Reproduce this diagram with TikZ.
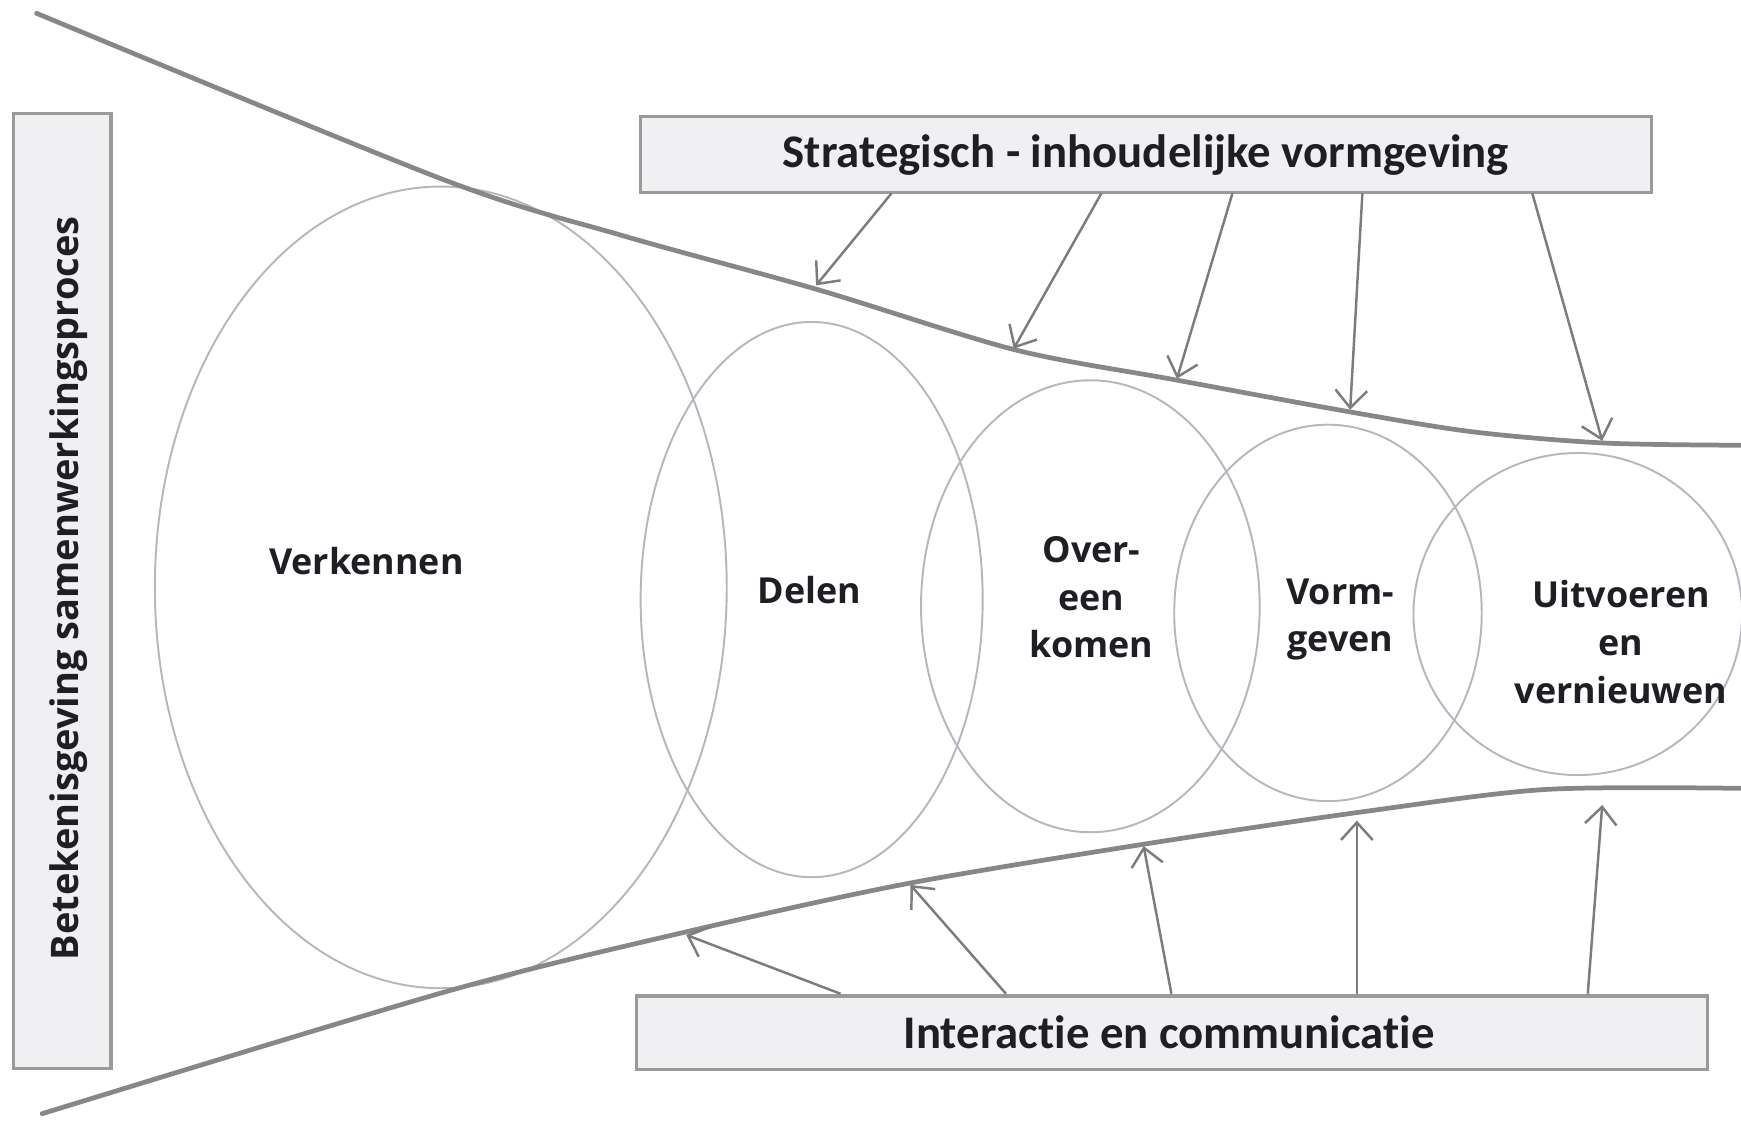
\documentclass[tikz,border=0pt]{standalone}
\usepackage{fontspec}
\newfontfamily\boxfont[Ligatures=NoCommon]{Carlito}
\newfontfamily\lblfont{Open Sans}
\usetikzlibrary{arrows.meta,shapes.geometric}
\definecolor{lineg}{HTML}{878787}
\definecolor{arrg}{HTML}{7C7C7C}
\definecolor{ellg}{HTML}{B6B6C0}
\definecolor{boxfill}{HTML}{F0F0F3}
\definecolor{boxdraw}{HTML}{9A9A9A}
\definecolor{txt}{HTML}{1E1E24}
\begin{document}
\begin{tikzpicture}[x=0.11103mm,y=-0.11103mm,
  bigbox/.style={draw=boxdraw, fill=boxfill, line width=0.9pt, inner sep=0pt, outer sep=0pt, rectangle},
  boxtext/.style={text=txt, font=\boxfont\bfseries\fontsize{13.3}{16}\selectfont},
  sidetext/.style={text=txt, font=\lblfont\bfseries\fontsize{10.8}{13}\selectfont, rotate=90},
  phase/.style={draw=ellg, line width=0.55pt, ellipse, inner sep=0pt, outer sep=0pt},
  lbl/.style={text=txt, align=center, font=\lblfont\bfseries\fontsize{10.2}{13.6}\selectfont},
  funnel/.style={draw=lineg, line width=1.35pt, line cap=round},
  arr/.style={draw=arrg, line width=0.7pt, -{Straight Barb[length=5pt,width=9pt,line width=0.7pt]}}]
\useasboundingbox (0,0) rectangle (1568,1011);

% boxes
\node[bigbox, minimum width=101.04mm, minimum height=7.55mm] (topbox) at (1032,139) {};
\node[boxtext] (toptext) at (1032,140) {Strategisch - inhoudelijke vormgeving};
\node[bigbox, minimum width=107.14mm, minimum height=7.33mm] (botbox) at (1055.5,930) {};
\node[boxtext] (bottext) at (1053,930) {Interactie en communicatie};
\node[bigbox, minimum width=9.77mm, minimum height=95.49mm] (sidebox) at (56,532) {};
\node[sidetext] (sidetxt) at (62,530) {Betekenisgeving samenwerkingsproces};

% phase ellipses
\node[phase, minimum width=57.18mm, minimum height=80.16mm] (e1) at (397,529) {};
\node[phase, minimum width=34.20mm, minimum height=55.52mm] (e2) at (731,540) {};
\node[phase, minimum width=33.86mm, minimum height=45.19mm] (e3) at (982,546) {};
\node[phase, minimum width=30.75mm, minimum height=37.64mm] (e4) at (1196,552) {};
\node[phase, minimum width=32.86mm, minimum height=32.20mm] (e5) at (1421,553) {};

\node[lbl] (l1) at (330,505) {Verkennen};
\node[lbl] (l2) at (729,531) {Delen};
\node[lbl] (l3) at (983,538) {Over-\\een\\komen};
\node[lbl] (l4) at (1207,558) {Vorm-\\geven};
\node[lbl] (l5) at (1460,578) {Uitvoeren\\en\\vernieuwen};

% funnel lines
\draw[funnel] plot[smooth, tension=0.5] coordinates {(33,12) (400,162) (560,212) (737,261) (914,315) (1058,342) (1216,371) (1327,389) (1445,399) (1568,401)};
\draw[funnel] plot[smooth, tension=0.5] coordinates {(38,1003) (402,893) (619,839) (816,796) (1032,760) (1228,731) (1392,711) (1568,710)};

% top arrows
\coordinate (ts1) at (803,174); \coordinate (tt1) at (735,257);
\coordinate (ts2) at (992,174); \coordinate (tt2) at (913,314);
\coordinate (ts3) at (1110,174); \coordinate (tt3) at (1060,341);
\coordinate (ts4) at (1227,174); \coordinate (tt4) at (1216,369);
\coordinate (ts5) at (1380,174); \coordinate (tt5) at (1443,397);
\foreach \i in {1,...,5} \draw[arr] (ts\i) -- (tt\i);

% bottom arrows
\coordinate (bs1) at (757,895); \coordinate (bt1) at (618,842);
\coordinate (bs2) at (906,895); \coordinate (bt2) at (820,797);
\coordinate (bs3) at (1055,895); \coordinate (bt3) at (1030,762);
\coordinate (bs4) at (1222,895); \coordinate (bt4) at (1222,739);
\coordinate (bs5) at (1430,895); \coordinate (bt5) at (1443,725);
\foreach \i in {1,...,5} \draw[arr] (bs\i) -- (bt\i);
\end{tikzpicture}
\end{document}
